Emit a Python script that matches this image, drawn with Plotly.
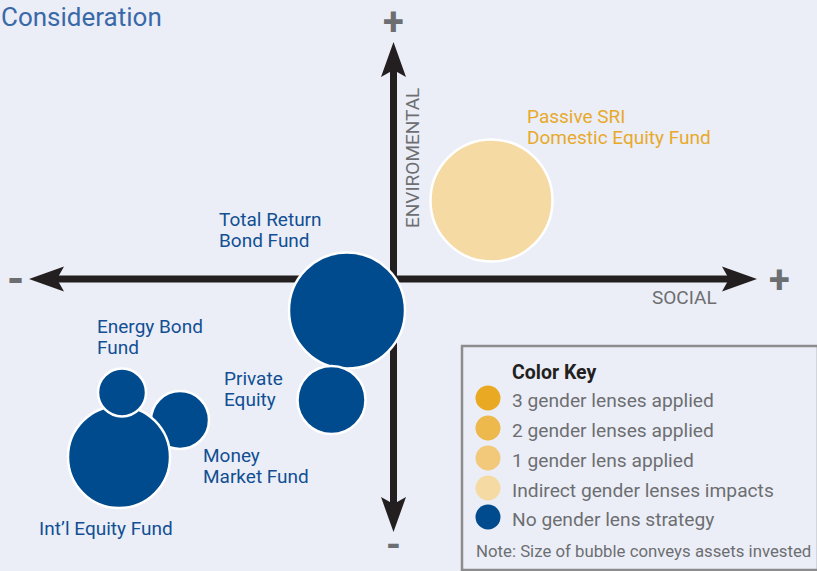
import plotly.graph_objects as go

# ---------------- data ----------------
funds = ["Passive SRI Domestic Equity Fund", "Total Return Bond Fund", "Private Equity",
         "Money Market Fund", "Int’l Equity Fund", "Energy Bond Fund"]
social = [9.8, -4.65, -6.2, -21.35, -27.45, -27.15]          # x (SOCIAL)
environmental = [7.85, -3.15, -12.1, -14.1, -17.8, -11.35]   # y (ENVIROMENTAL)
assets = [122, 116, 68, 58, 102, 48]                          # bubble size
lens = ["Indirect gender lenses impacts", "No gender lens strategy", "No gender lens strategy",
        "No gender lens strategy", "No gender lens strategy", "No gender lens strategy"]

key_labels = ["3 gender lenses applied", "2 gender lenses applied", "1 gender lens applied",
              "Indirect gender lenses impacts", "No gender lens strategy"]
key_colors = ["#e9a922", "#edb84c", "#f2c97a", "#f6daa4", "#004a8e"]

fund_label_lines = [["Passive SRI", "Domestic Equity Fund"], ["Total Return", "Bond Fund"],
                    ["Private", "Equity"], ["Money", "Market Fund"], ["Int’l Equity Fund"],
                    ["Energy Bond", "Fund"]]

# ---------------- layout helpers ----------------
W, H = 817, 571
OX, OY, S = 393.5, 279.0, 10.0   # origin pixel and px per unit


def dx(px):
    return (px - OX) / S


def dy(py):
    return (OY - py) / S


color_of = dict(zip(key_labels, key_colors))
FONT = "Roboto, Open Sans, sans-serif"
NAVY_TXT = "#124f93"
GOLD_TXT = "#e8a92a"
GRAY = "#6d6e71"
AXC = "#231f20"

fig = go.Figure()
fig.add_trace(go.Scatter(
    x=social, y=environmental, mode="markers",
    marker=dict(size=assets, sizemode="diameter",
                color=[color_of[l] for l in lens],
                line=dict(color="white", width=2.5), opacity=1),
    text=funds, hoverinfo="text", showlegend=False))

shapes = []
# axes lines
LT, RT, UT, DT = 29, 757, 42, 532
HL, HW, NOTCH = 35, 12.5, 7
shapes.append(dict(type="line", x0=dx(LT + 20), x1=dx(RT - 20), y0=dy(OY), y1=dy(OY),
                   line=dict(color=AXC, width=7), layer="below"))
shapes.append(dict(type="line", x0=dx(OX), x1=dx(OX), y0=dy(UT + 20), y1=dy(DT - 20),
                   line=dict(color=AXC, width=7), layer="below"))


def head(pts):
    p = "M " + " L ".join(f"{dx(a)},{dy(b)}" for a, b in pts) + " Z"
    return dict(type="path", path=p, fillcolor=AXC, line=dict(width=0), layer="below")


shapes.append(head([(LT, OY), (LT + HL, OY - HW), (LT + HL - NOTCH, OY), (LT + HL, OY + HW)]))
shapes.append(head([(RT, OY), (RT - HL, OY - HW), (RT - HL + NOTCH, OY), (RT - HL, OY + HW)]))
shapes.append(head([(OX, UT), (OX - HW, UT + HL), (OX, UT + HL - NOTCH), (OX + HW, UT + HL)]))
shapes.append(head([(OX, DT), (OX - HW, DT - HL), (OX, DT - HL + NOTCH), (OX + HW, DT - HL)]))

# legend box
shapes.append(dict(type="rect", x0=dx(462), x1=dx(818), y0=dy(346), y1=dy(570),
                   line=dict(color="#8c8c8c", width=2.5), fillcolor="rgba(0,0,0,0)", layer="below"))
key_y = [398, 428, 458, 488, 517]
for c, ky in zip(key_colors, key_y):
    shapes.append(dict(type="circle", x0=dx(488 - 12.5), x1=dx(488 + 12.5),
                       y0=dy(ky - 12.5), y1=dy(ky + 12.5), fillcolor=c, line=dict(width=0)))

ann = []


def txt(t, px, py, size, color, xanchor="left", angle=0, bold=False):
    ann.append(dict(text=f"<b>{t}</b>" if bold else t, x=px / W, y=1 - py / H,
                    xref="paper", yref="paper", xanchor=xanchor, yanchor="middle",
                    showarrow=False, textangle=angle,
                    font=dict(family=FONT, size=size, color=color)))


txt("Consideration", -1, 17, 26, "#3a69a8")
label_pos = [(525, 116), (217, 219), (222, 378), (201, 455), (37, 528), (95, 326)]
for lines, (lx, ly), l in zip(fund_label_lines, label_pos, lens):
    col = GOLD_TXT if l != "No gender lens strategy" else NAVY_TXT
    for i, line in enumerate(lines):
        txt(line, lx, ly + 21.5 * i, 19, col)

txt("ENVIROMENTAL", 412, 158, 19, GRAY, xanchor="center", angle=-90)
txt("SOCIAL", 684, 297, 19, GRAY, xanchor="center")
txt("+", 393, 22, 38, GRAY, xanchor="center", bold=True)
txt("+", 779, 280, 38, GRAY, xanchor="center", bold=True)
txt("-", 15, 279, 44, GRAY, xanchor="center", bold=True)
txt("-", 393, 545, 38, GRAY, xanchor="center", bold=True)

txt("Color Key", 510, 372, 19.5, AXC, bold=True)
for lab, ky in zip(key_labels, key_y):
    txt(lab, 510, ky + 2, 19.2, GRAY)
txt("Note: Size of bubble conveys assets invested", 474, 551, 16.8, GRAY)

fig.update_layout(
    width=W, height=H, margin=dict(l=0, r=0, t=0, b=0),
    paper_bgcolor="#ebeef7", plot_bgcolor="#ebeef7",
    xaxis=dict(range=[dx(0), dx(W)], visible=False, fixedrange=True),
    yaxis=dict(range=[dy(H), dy(0)], visible=False, fixedrange=True),
    shapes=shapes, annotations=ann, showlegend=False)

fig.write_html("out.html", config={"displayModeBar": False},
               post_script="document.body.style.margin='0';document.body.style.padding='0';"
                           "document.body.style.background='#ebeef7';")
